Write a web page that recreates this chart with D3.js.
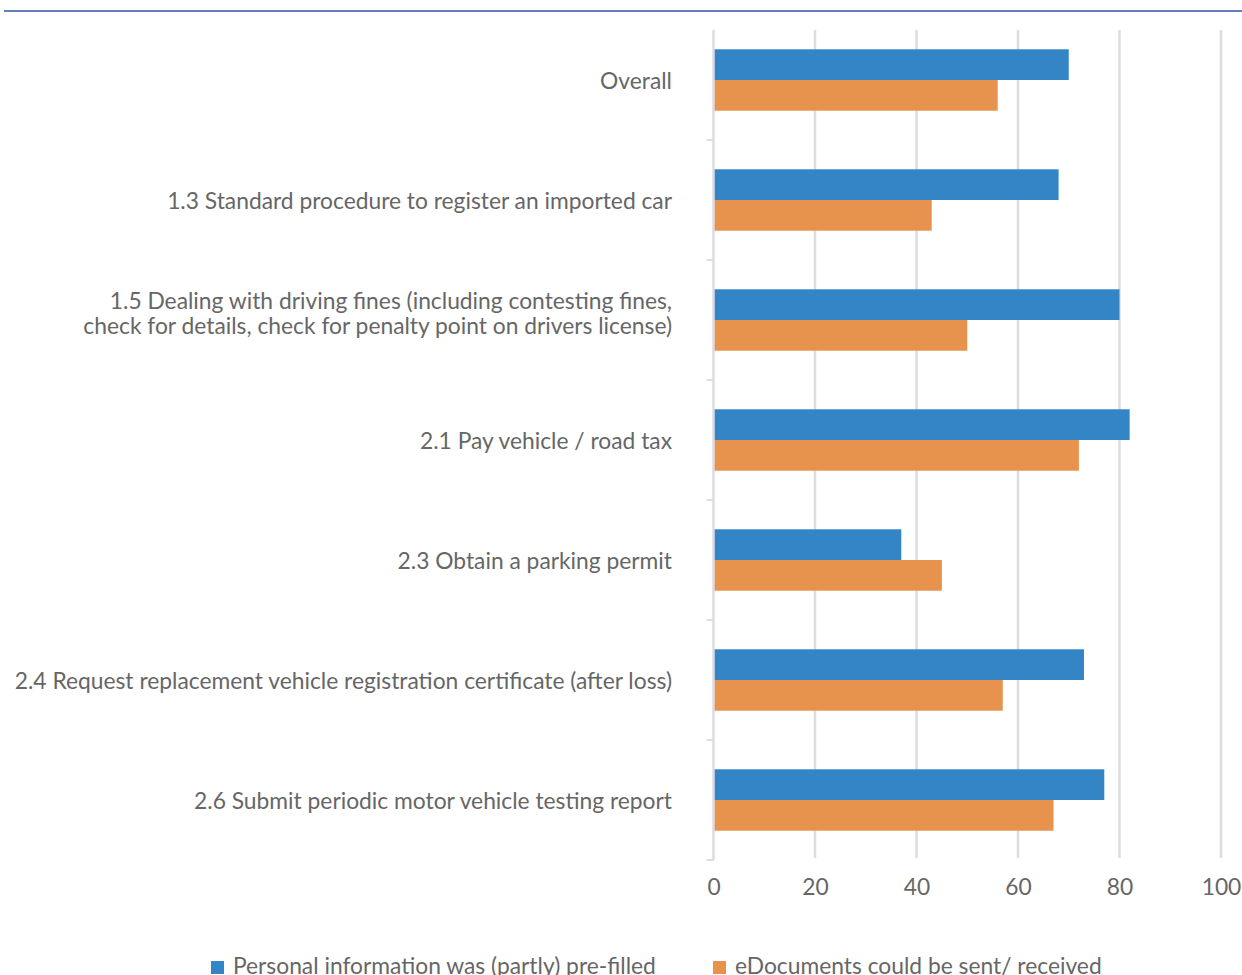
<!DOCTYPE html>
<html>
<head>
<meta charset="utf-8">
<script src="https://cdn.jsdelivr.net/npm/d3@7"></script>
<style>
  html, body { margin: 0; padding: 0; background: #fff; overflow: hidden; }
  svg { display: block; }
  text { font-family: Lato, "Open Sans", sans-serif; fill: #666; }
</style>
</head>
<body>
<svg id="chart" width="1242" height="975"></svg>
<script>
// Life event services: share of services with pre-filled forms and eDocuments
const categories = [
  ["Overall"],
  ["1.3 Standard procedure to register an imported car"],
  ["1.5 Dealing with driving fines (including contesting fines,", "check for details, check for penalty point on drivers license)"],
  ["2.1 Pay vehicle / road tax"],
  ["2.3 Obtain a parking permit"],
  ["2.4 Request replacement vehicle registration certificate (after loss)"],
  ["2.6 Submit periodic motor vehicle testing report"]
];
const prefilled  = [70, 68, 80, 82, 37, 73, 77];
const eDocuments = [56, 43, 50, 72, 45, 57, 67];
const seriesNames = ["Personal information was (partly) pre-filled", "eDocuments could be sent/ received"];
const xTicks = [0, 20, 40, 60, 80, 100];

const colors = ["#3485c5", "#e8934d"];
const fontSize = 22.8;

const svg = d3.select("#chart");

// Header rule
svg.append("rect").attr("x", 4).attr("y", 10).attr("width", 1238).attr("height", 2).attr("fill", "#6580b8");

const plot = { left: 713.5, right: 1221, top: 20, bottom: 860, gridTop: 30 };

const x = d3.scaleLinear().domain([0, 100]).range([plot.left, plot.right]);
const y = d3.scaleBand().domain(d3.range(categories.length)).range([plot.top, plot.bottom]);
const sub = d3.scaleBand().domain([0, 1]).range([y.bandwidth() * 0.244, y.bandwidth() * 0.756]);

// Vertical gridlines
svg.append("g").selectAll("line").data(xTicks.slice(1)).join("line")
  .attr("x1", d => x(d)).attr("x2", d => x(d))
  .attr("y1", plot.gridTop).attr("y2", plot.bottom - 2)
  .attr("stroke", "#dcdce2").attr("stroke-width", 2.5);

// Bars
const data = categories.map((c, i) => ({ i, vals: [prefilled[i], eDocuments[i]] }));
const groups = svg.append("g").selectAll("g").data(data).join("g")
  .attr("transform", d => `translate(0,${y(d.i)})`);
groups.selectAll("rect").data(d => d.vals.map((v, s) => ({ v, s }))).join("rect")
  .attr("x", x(0))
  .attr("y", d => sub(d.s))
  .attr("width", d => x(d.v) - x(0))
  .attr("height", sub.bandwidth())
  .attr("fill", d => colors[d.s]);

// Category axis line with boundary ticks
svg.append("line").attr("x1", plot.left).attr("x2", plot.left)
  .attr("y1", plot.gridTop).attr("y2", plot.bottom)
  .attr("stroke", "#dcdce2").attr("stroke-width", 2.5);
const bounds = d3.range(1, categories.length + 1).map(i => plot.top + i * y.step());
svg.append("g").selectAll("line").data(bounds).join("line")
  .attr("x1", plot.left - 7).attr("x2", plot.left)
  .attr("y1", d => d).attr("y2", d => d)
  .attr("stroke", "#dcdce2").attr("stroke-width", 2);

// Category labels
const labels = svg.append("g").selectAll("text").data(categories).join("text")
  .attr("text-anchor", "end")
  .attr("font-size", fontSize)
  .attr("x", 672)
  .attr("y", (d, i) => y(i) + y.bandwidth() / 2);
labels.selectAll("tspan").data(d => d.map((t, k) => ({ t, k, n: d.length }))).join("tspan")
  .attr("x", 672)
  .attr("dy", d => d.k === 0 ? (d.n > 1 ? -11 : 9) : 25)
  .text(d => d.t);

// Value axis tick labels
const xAxis = d3.axisBottom(x).tickValues(xTicks).tickSize(0).tickPadding(0);
const gx = svg.append("g").attr("transform", `translate(0,${plot.bottom + 19})`).call(xAxis);
gx.select(".domain").remove();
gx.selectAll("text").attr("font-size", fontSize).attr("dy", "0.71em")
  .style("font-family", "Lato, 'Open Sans', sans-serif").attr("fill", "#737373");

// Legend
const legendItems = [{ x: 211, s: 0 }, { x: 713, s: 1 }];
const lg = svg.append("g").selectAll("g").data(legendItems).join("g")
  .attr("transform", d => `translate(${d.x},961)`);
lg.append("rect").attr("width", 13).attr("height", 13).attr("fill", d => colors[d.s]);
lg.append("text").attr("x", 22).attr("y", 13).attr("font-size", fontSize).text(d => seriesNames[d.s]);
</script>
</body>
</html>
